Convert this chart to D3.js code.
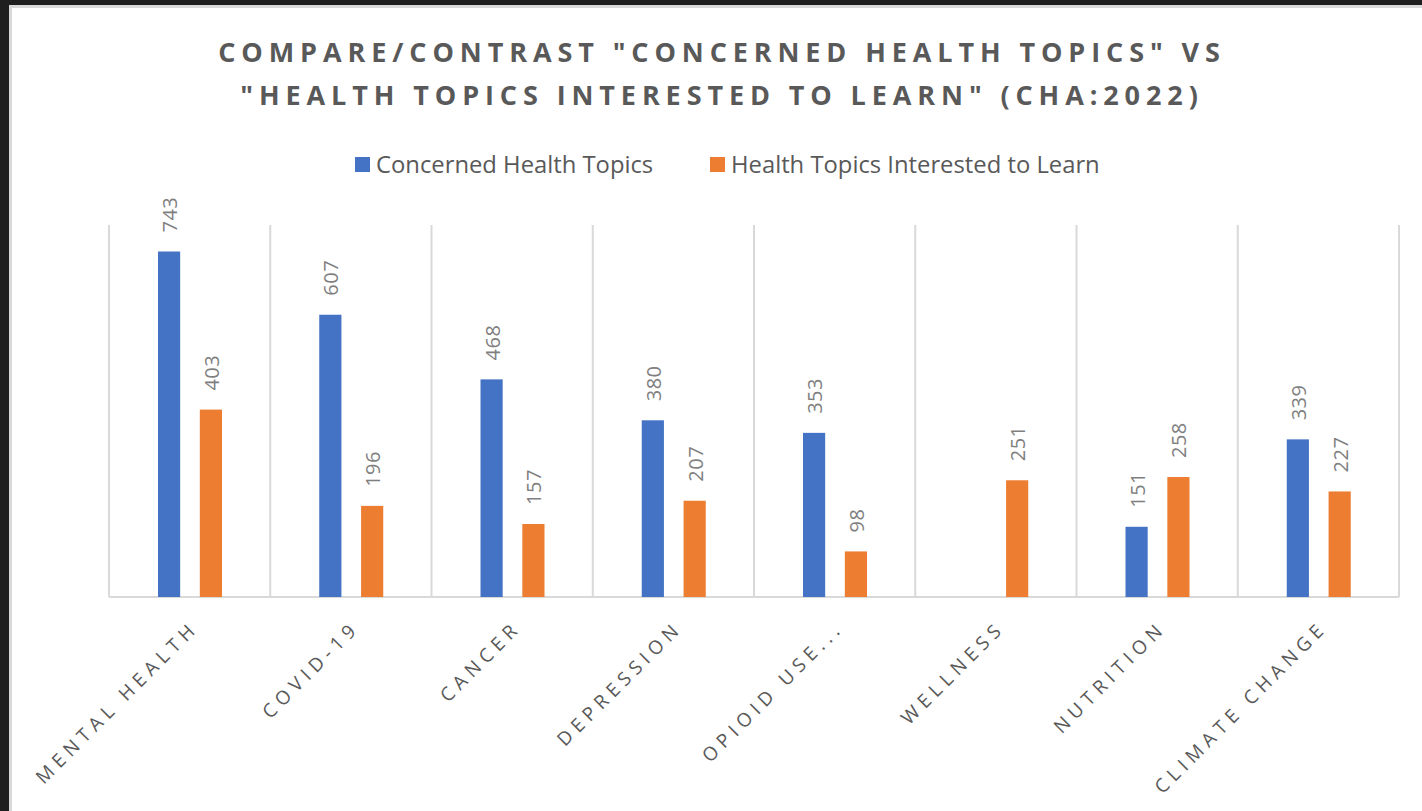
<!DOCTYPE html>
<meta charset="utf-8">
<style>
body { margin: 0; background: #1f1f1f; }
text { font-family: "Open Sans", sans-serif; }
.grid line { stroke: #d9d9d9; stroke-width: 2px; }
</style>
<svg width="1422" height="811"></svg>
<script src="https://d3js.org/d3.v7.min.js"></script>
<script>

var categories = ["MENTAL HEALTH", "COVID-19", "CANCER", "DEPRESSION", "OPIOID USE...", "WELLNESS", "NUTRITION", "CLIMATE CHANGE"];
var concerned = [743, 607, 468, 380, 353, null, 151, 339];
var interested = [403, 196, 157, 207, 98, 251, 258, 227];
var seriesNames = ["Concerned Health Topics", "Health Topics Interested to Learn"];
var colors = ["#4472c4", "#ed7d31"];
var titleLines = ["COMPARE/CONTRAST \"CONCERNED HEALTH TOPICS\" VS", "\"HEALTH TOPICS INTERESTED TO  LEARN\" (CHA:2022)"];

var svg = d3.select("svg");

// page frame
svg.append("rect").attr("width", 1422).attr("height", 811).attr("fill", "#1f1f1f");
svg.append("rect").attr("x", 9).attr("y", 5).attr("width", 1413).attr("height", 806).attr("fill", "#d9d9d9");
svg.append("rect").attr("x", 12).attr("y", 8).attr("width", 1410).attr("height", 803).attr("fill", "#fff");

var x = d3.scaleBand().domain(categories).range([109, 1399]);
var y = d3.scaleLinear().domain([0, 800]).range([597, 225]);
var sub = d3.scaleBand().domain([0, 1]).range([49, 113]).paddingInner(0.47);

// title
svg.append("g").selectAll("text")
  .data(titleLines)
  .enter().append("text")
    .attr("x", 722)
    .attr("y", function(d, i) { return 62 + i * 43; })
    .attr("text-anchor", "middle")
    .attr("fill", "#595959")
    .attr("font-weight", "bold")
    .attr("font-size", "27px")
    .attr("letter-spacing", "5.9px")
    .text(function(d) { return d; });

// legend
var legend = svg.append("g");
var legendX = [355, 710];
seriesNames.forEach(function(name, i) {
  legend.append("rect")
    .attr("x", legendX[i]).attr("y", 157)
    .attr("width", 15).attr("height", 15)
    .attr("fill", colors[i]);
  legend.append("text")
    .attr("x", legendX[i] + 21).attr("y", 173)
    .attr("fill", "#595959")
    .attr("font-size", "23.8px")
    .text(name);
});

// gridlines at category boundaries
var bounds = categories.map(function(c) { return x(c); }).concat([x.range()[1]]);
svg.append("g").attr("class", "grid").selectAll("line")
  .data(bounds)
  .enter().append("line")
    .attr("x1", function(d) { return d; })
    .attr("x2", function(d) { return d; })
    .attr("y1", y(800))
    .attr("y2", y(0));

svg.append("g").attr("class", "grid").append("line")
  .attr("x1", x.range()[0]).attr("x2", x.range()[1])
  .attr("y1", y(0)).attr("y2", y(0));

// bars
var series = [concerned, interested];
series.forEach(function(vals, s) {
  var g = svg.append("g");
  var rows = categories.map(function(c, i) { return { c: c, v: vals[i] }; })
    .filter(function(d) { return d.v != null; });
  g.selectAll("rect")
    .data(rows)
    .enter().append("rect")
      .attr("x", function(d) { return x(d.c) + sub(s); })
      .attr("y", function(d) { return y(d.v); })
      .attr("width", sub.bandwidth())
      .attr("height", function(d) { return y(0) - y(d.v); })
      .attr("fill", colors[s]);
  g.selectAll("text")
    .data(rows)
    .enter().append("text")
      .attr("transform", function(d) {
        return "translate(" + (x(d.c) + sub(s) + sub.bandwidth() / 2 + 1) + "," + (y(d.v) - 19) + ") rotate(-90)";
      })
      .attr("dy", "0.35em")
      .attr("fill", "#7f7f7f")
      .attr("font-size", "20px")
      .attr("letter-spacing", "0.5px")
      .text(function(d) { return d.v; });
});

// category labels
svg.append("g").selectAll("text")
  .data(categories)
  .enter().append("text")
    .attr("transform", function(d) {
      return "translate(" + (x(d) + x.bandwidth() / 2 + 10) + ",629) rotate(-45)";
    })
    .attr("text-anchor", "end")
    .attr("fill", "#595959")
    .attr("font-size", "19px")
    .attr("letter-spacing", "5.4px")
    .text(function(d) { return d; });

</script>
